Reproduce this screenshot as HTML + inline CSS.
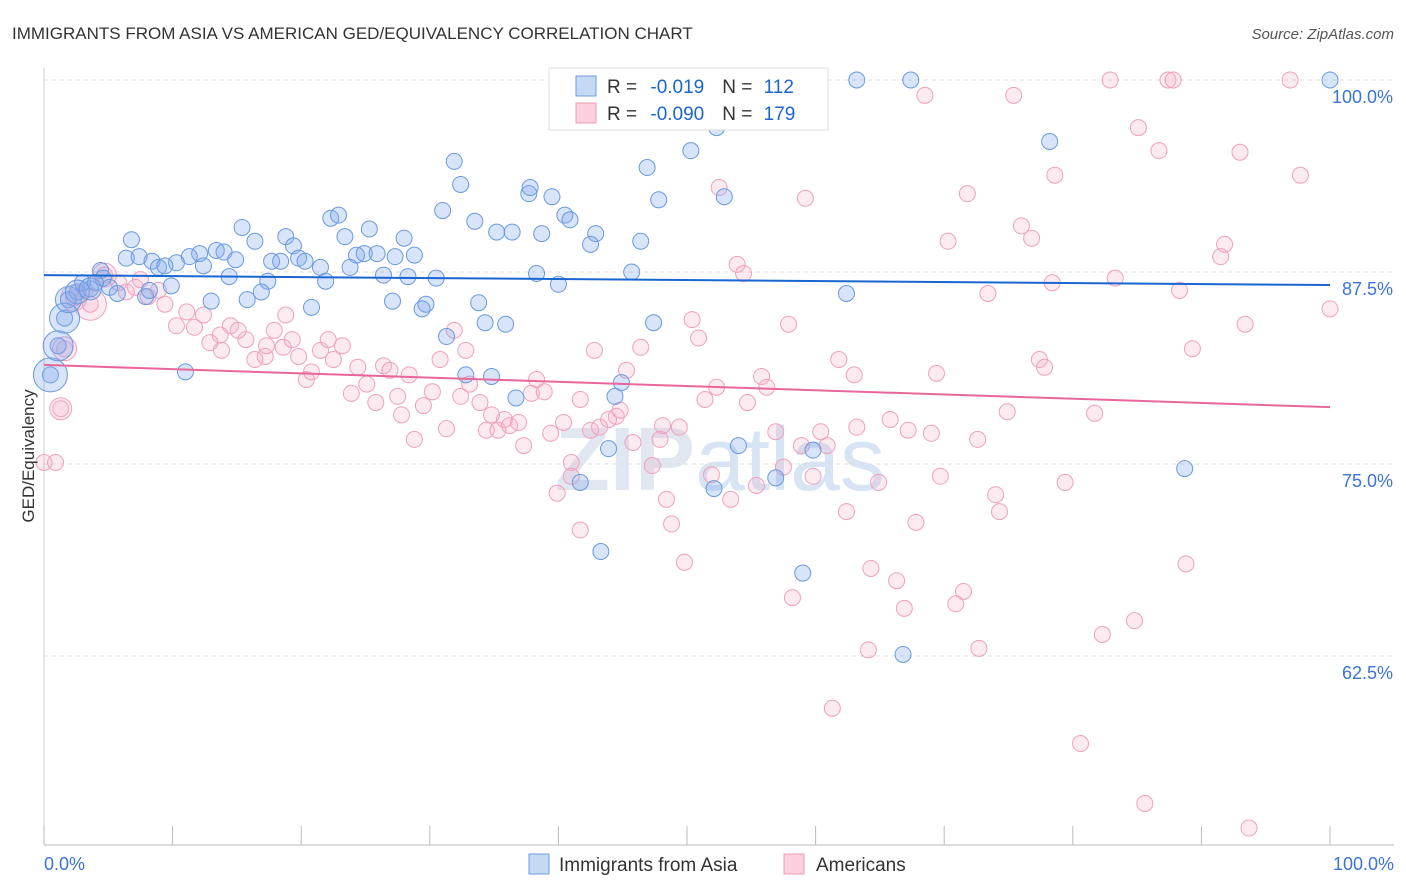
<!DOCTYPE html>
<html><head><meta charset="utf-8"><style>
body{margin:0;background:#fff;font-family:"Liberation Sans",sans-serif;}
svg{display:block}
</style></head><body>
<svg id="chart" width="1406" height="892" xmlns="http://www.w3.org/2000/svg">
<text x="12" y="39" font-size="17" fill="#333">IMMIGRANTS FROM ASIA VS AMERICAN GED/EQUIVALENCY CORRELATION CHART</text>
<text x="1394" y="39" font-size="15" fill="#555" font-style="italic" text-anchor="end">Source: ZipAtlas.com</text>
<text x="720" y="490" font-size="90" fill="#e0e7f0" text-anchor="middle" font-weight="bold">ZIP<tspan font-weight="normal" fill="#d6e4f3">atlas</tspan></text>
<g id="grid"></g><g id="axes"></g><g id="pts"></g><g id="trend"></g>
<text transform="translate(34,456) rotate(-90)" font-size="17" fill="#333" text-anchor="middle">GED/Equivalency</text>
<g>
<rect x="549" y="68" width="279" height="62" fill="#fff" stroke="#ddd"/>
<rect x="576" y="76" width="20" height="20" fill="#c5d9f5" stroke="#6d9be0"/>
<rect x="576" y="103" width="20" height="20" fill="#fbd0de" stroke="#ee9ab8"/>
<text x="607" y="93" font-size="19" fill="#333">R = <tspan fill="#1a66d0" dx="8">-0.019</tspan><tspan dx="18" fill="#333">N = </tspan><tspan fill="#1a66d0" dx="6">112</tspan></text>
<text x="607" y="120" font-size="19" fill="#333">R = <tspan fill="#1a66d0" dx="8">-0.090</tspan><tspan dx="18" fill="#333">N = </tspan><tspan fill="#1a66d0" dx="6">179</tspan></text>
</g>
<g>
<rect x="529" y="854" width="20" height="20" fill="#c5d9f5" stroke="#6d9be0"/>
<text x="559" y="871" font-size="19" fill="#333">Immigrants from Asia</text>
<rect x="784" y="854" width="20" height="20" fill="#fbd0de" stroke="#ee9ab8"/>
<text x="816" y="871" font-size="19" fill="#333">Americans</text>
</g>
</svg>
<script>
const yTicks=[100,87.5,75,62.5];
const yTickLabels=["100.0%","87.5%","75.0%","62.5%"];
const xTickLabels=["0.0%","100.0%"];
const blueX=[63.2,67.4,100,78.2,52.3,50.3,31.9,46.9,32.4,37.7,37.8,39.5,47.8,52.9,31.0,22.3,22.9,40.5,40.9,33.5,15.4,25.3,35.2,36.4,38.7,42.9,23.4,6.8,18.8,16.4,28.0,46.4,42.5,19.4,13.4,12.1,11.3,14.0,6.4,7.4,8.4,8.9,10.3,9.4,12.4,14.9,17.7,18.4,19.8,20.3,24.3,24.9,25.9,27.3,28.8,21.5,23.8,26.4,28.3,30.5,38.3,45.7,14.4,17.4,21.9,40.0,9.9,16.9,13.0,15.8,27.1,29.7,33.8,29.4,20.8,62.4,34.3,35.9,47.4,31.3,11.0,32.8,34.8,44.9,44.4,36.7,54.0,43.9,59.8,56.9,52.1,41.7,88.7,43.3,59.0,66.8,0.5,1.1,1.6,1.9,2.6,3.6,4.4,4.6,5.1,5.7,3.0,4.0,7.9,8.2];
const blueY=[100,100,100,96.0,96.9,95.4,94.7,94.3,93.2,92.6,93.0,92.4,92.2,92.4,91.5,91.0,91.2,91.2,90.9,90.8,90.4,90.3,90.1,90.1,90.0,90.0,89.8,89.6,89.8,89.5,89.7,89.5,89.3,89.2,88.9,88.7,88.5,88.8,88.4,88.5,88.2,87.8,88.1,87.9,87.9,88.3,88.2,88.2,88.4,88.2,88.6,88.7,88.7,88.5,88.6,87.8,87.8,87.3,87.2,87.1,87.4,87.5,87.2,86.9,86.9,86.7,86.6,86.2,85.6,85.7,85.6,85.4,85.5,85.1,85.2,86.1,84.2,84.1,84.2,83.3,81.0,80.8,80.7,80.3,79.4,79.3,76.2,76.0,75.9,74.1,73.4,73.8,74.7,69.3,67.9,62.6,80.8,82.7,84.5,85.7,86.2,86.4,87.6,87.1,86.5,86.1,86.8,86.8,85.9,86.3];
const blueBig=[[0.5,80.8,17],[1.1,82.7,15],[1.6,84.5,15],[1.9,85.7,13],[2.6,86.2,12],[3.6,86.4,11]];
const pinkX=[82.9,87.4,87.8,96.9,68.5,75.4,85.1,86.7,93.0,78.6,97.7,52.5,71.8,59.2,76.0,76.8,70.3,91.8,91.5,53.9,54.4,83.3,78.4,88.3,73.4,100,50.4,57.9,93.4,50.9,89.3,46.4,42.8,61.8,77.4,77.8,63.0,69.4,55.8,52.3,56.2,51.4,54.7,74.9,81.7,65.8,63.2,67.2,69.0,56.9,60.4,58.9,60.9,72.6,48.1,49.4,47.9,45.8,47.3,51.9,57.5,59.8,64.9,69.7,79.4,74.0,74.3,53.4,55.4,48.4,39.9,41.0,41.0,62.4,67.8,48.8,41.7,49.8,64.3,66.3,88.8,71.5,70.9,66.9,58.2,84.8,82.3,64.1,72.7,61.3,80.6,85.6,93.7,0,0.9,1.3,1.6,3.6,2.3,3.2,4.7,5.8,6.4,7.1,8.1,8.9,9.4,10.3,11.1,11.7,12.4,12.9,13.7,13.8,14.5,15.1,15.7,16.4,17.2,17.9,18.6,19.3,19.8,20.4,20.8,21.5,22.1,22.5,23.2,23.9,24.4,25.1,25.8,26.4,26.9,27.5,27.8,28.4,28.8,29.5,30.2,30.8,31.3,31.9,32.4,32.8,33.1,33.9,34.4,34.8,35.3,35.8,36.2,36.9,37.3,37.9,38.3,38.9,39.4,40.4,41.7,42.5,43.2,43.9,44.5,44.8,45.3,17.3,18.8,7.5];
const pinkY=[100,100,100,100,99.0,99.0,96.9,95.4,95.3,93.8,93.8,93.0,92.6,92.3,90.5,89.7,89.5,89.3,88.5,88.0,87.4,87.1,86.8,86.3,86.1,85.1,84.4,84.1,84.1,83.2,82.5,82.6,82.4,81.8,81.8,81.3,80.8,80.9,80.7,80.0,80.0,79.2,79.0,78.4,78.3,77.9,77.4,77.2,77.0,77.1,77.1,76.2,76.2,76.6,77.5,77.4,76.6,76.4,74.9,74.3,74.8,74.2,73.8,74.2,73.8,73.0,71.9,72.7,73.6,72.7,73.1,75.1,74.2,71.9,71.2,71.1,70.7,68.6,68.2,67.4,68.5,66.7,65.9,65.6,66.3,64.8,63.9,62.9,63.0,59.1,56.8,52.9,51.3,75.1,75.1,78.6,82.5,85.4,85.8,86.3,87.3,86.8,86.2,86.5,85.9,86.3,85.4,84.0,84.9,83.9,84.7,82.9,83.4,82.4,84.0,83.7,83.1,81.8,82.0,83.7,82.6,83.1,82.0,80.5,81.0,82.4,83.1,81.8,82.7,79.6,81.3,80.2,79.0,81.4,81.1,79.4,78.2,80.8,76.6,78.8,79.7,81.8,77.3,83.7,79.4,82.4,80.2,79.0,77.2,78.2,77.2,77.9,77.5,77.7,76.2,79.6,80.5,79.7,77.0,77.7,79.2,77.2,77.4,77.9,78.1,78.5,81.1,82.7,84.7,87.0];
const pinkBig=[[3.6,85.4,16],[2.3,85.8,13],[1.6,82.5,12],[4.7,87.3,12],[1.3,78.6,11]];
const blueTrend=[87.3,86.65];
const pinkTrend=[81.45,78.7];

const NS="http://www.w3.org/2000/svg";
const X=v=>44+v*12.86;
const Y=v=>80+(100-v)*15.36;
function mk(t,a,p){const e=document.createElementNS(NS,t);for(const k in a)e.setAttribute(k,a[k]);p.appendChild(e);return e;}
const grid=document.getElementById('grid'),axes=document.getElementById('axes'),pts=document.getElementById('pts'),trend=document.getElementById('trend');
yTicks.forEach((v,i)=>{
 const l=mk('line',{x1:44,x2:1394,y1:Y(v),y2:Y(v),stroke:'#ddd','stroke-dasharray':'4,4'},grid);
 
 
 const t=mk('text',{x:1393,y:Y(v)+23,'font-size':18,fill:'#3b73d6','text-anchor':'end'},axes);
 t.textContent=yTickLabels[i];
 
 
});
const ax=mk('line',{x1:44,x2:1394,y1:845,y2:845,stroke:'#bbb'},axes);


const ay=mk('line',{x1:44,x2:44,y1:68,y2:845,stroke:'#ccc'},axes);


for(let i=0;i<=10;i++){
 const tk=mk('line',{x1:X(i*10),x2:X(i*10),y1:826,y2:845,stroke:'#bbb'},axes);
 
 
}
[[0,'start',44],[1,'end',1394]].forEach(([i,a,x])=>{
 const t=mk('text',{x:x,y:870,'font-size':18,fill:'#3b73d6','text-anchor':a},axes);
 t.textContent=xTickLabels[i];
 
 
});
function dot(x,y,r,c){
 const fill=c==='b'?'rgba(130,170,235,0.32)':'rgba(245,170,198,0.25)';
 const st=c==='b'?'#6a9ae0':'#f0a0bd';
 const e=mk('circle',{cx:X(x),cy:Y(y),r:r,fill:fill,stroke:st,'stroke-width':1},pts);
 
 
}
pinkX.forEach((x,i)=>dot(x,pinkY[i],8,'p'));
pinkBig.forEach(p=>dot(p[0],p[1],p[2],'p'));
blueX.forEach((x,i)=>dot(x,blueY[i],8,'b'));
blueBig.forEach(p=>dot(p[0],p[1],p[2],'b'));
const bt=mk('line',{x1:X(0),x2:X(100),y1:Y(blueTrend[0]),y2:Y(blueTrend[1]),stroke:'#1a66d0','stroke-width':2},trend);


const pt=mk('line',{x1:X(0),x2:X(100),y1:Y(pinkTrend[0]),y2:Y(pinkTrend[1]),stroke:'#e8679a','stroke-width':2},trend);


</script>
</body></html>
